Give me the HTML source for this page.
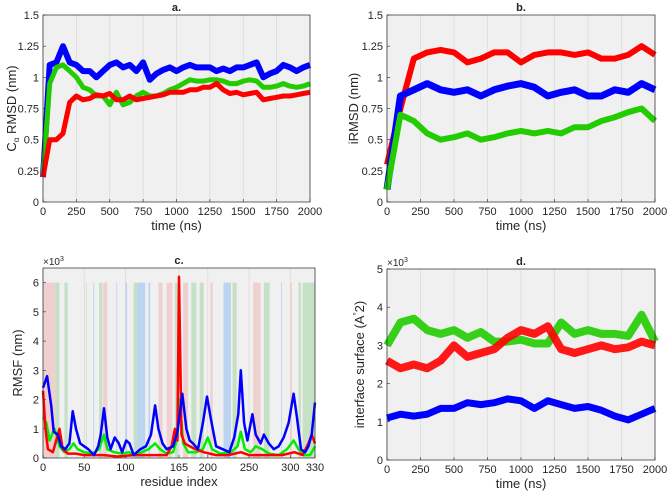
<!DOCTYPE html>
<html><head><meta charset="utf-8"><style>
body{margin:0;background:#fff;}
svg{display:block;font-family:"Liberation Sans",sans-serif;}
text{fill:#262626;}
</style></head><body>
<svg id="s" width="669" height="495" viewBox="0 0 669 495"></svg>
<script>
// ---- Panel a data (time ns, Ca RMSD nm)
const timeA=[0,50,100,150,200,250,300,350,400,450,500,550,600,650,700,750,800,850,900,950,1000,1050,1100,1150,1200,1250,1300,1350,1400,1450,1500,1550,1600,1650,1700,1750,1800,1850,1900,1950,2000];
const aBlue=[0.2,1.1,1.12,1.25,1.12,1.1,1.05,1.05,1.0,1.05,1.1,1.12,1.08,1.1,1.05,1.12,0.98,1.03,1.06,1.08,1.05,1.08,1.1,1.08,1.08,1.08,1.05,1.07,1.05,1.08,1.08,1.1,1.12,1.0,1.03,1.05,1.1,1.08,1.05,1.08,1.1];
const aGreen=[0.2,0.95,1.08,1.1,1.05,1.0,0.92,0.9,0.85,0.85,0.78,0.88,0.78,0.8,0.85,0.88,0.85,0.85,0.87,0.9,0.92,0.95,0.98,0.97,0.97,0.98,0.98,0.97,0.95,0.95,0.97,0.98,0.97,0.92,0.92,0.93,0.95,0.93,0.92,0.93,0.95];
const aRed=[0.2,0.5,0.5,0.55,0.8,0.85,0.82,0.83,0.86,0.85,0.87,0.82,0.82,0.85,0.82,0.83,0.84,0.85,0.86,0.88,0.88,0.88,0.9,0.9,0.92,0.92,0.95,0.9,0.87,0.88,0.86,0.87,0.88,0.82,0.83,0.84,0.85,0.85,0.86,0.87,0.88];
// ---- Panel b data (iRMSD nm)
const timeB=[0,100,200,300,400,500,600,700,800,900,1000,1100,1200,1300,1400,1500,1600,1700,1800,1900,2000];
const bRed=[0.3,0.75,1.15,1.2,1.22,1.2,1.12,1.15,1.2,1.2,1.12,1.18,1.2,1.2,1.18,1.2,1.15,1.15,1.18,1.25,1.18];
const bBlue=[0.1,0.85,0.9,0.95,0.9,0.88,0.9,0.85,0.9,0.93,0.95,0.92,0.85,0.88,0.9,0.85,0.85,0.9,0.88,0.95,0.9];
const bGreen=[0.1,0.7,0.65,0.55,0.5,0.52,0.55,0.5,0.52,0.55,0.57,0.55,0.57,0.55,0.6,0.6,0.65,0.68,0.72,0.75,0.65];
// ---- Panel c data (residue, RMSF x1e3)
const resBlue=[0,5,10,13,18,22,27,32,36,40,45,50,55,62,67,70,74,78,82,87,92,96,101,105,110,118,125,131,136,140,145,150,158,163,166,169,174,178,182,188,194,199,204,210,218,226,232,237,240,244,248,254,258,264,268,274,280,286,292,298,304,308,313,318,322,326,330];
const cBlue=[2.4,2.8,1.8,0.9,0.8,0.4,0.3,0.5,1.6,1.0,0.5,0.4,0.3,0.1,0.4,0.8,1.7,0.7,0.3,0.7,0.5,0.2,0.6,0.5,0.1,0.3,0.4,0.8,1.8,1.0,0.5,0.3,0.4,0.9,1.5,2.2,1.0,0.6,0.5,0.3,1.2,2.1,1.3,0.4,0.3,0.2,0.7,1.5,3.0,1.2,0.6,1.5,0.8,0.5,0.8,0.5,0.3,0.4,0.7,1.2,2.2,1.4,0.3,0.2,0.4,0.8,1.9];
const resGreen=[0,4,8,14,20,26,32,37,42,50,60,68,74,78,86,96,104,112,120,128,136,142,150,158,163,166,170,176,186,194,200,205,215,228,236,240,245,252,258,266,274,286,296,304,310,316,324,330];
const cGreen=[1.4,1.2,0.6,1.0,0.4,0.2,0.3,0.5,0.3,0.2,0.15,0.3,0.8,0.3,0.2,0.15,0.2,0.1,0.2,0.3,0.5,0.3,0.15,0.2,0.7,2.0,0.5,0.2,0.2,0.3,0.7,0.3,0.15,0.2,0.4,0.9,0.3,0.2,0.4,0.3,0.15,0.1,0.3,0.6,0.3,0.1,0.1,0.4];
const resRed=[0,3,6,12,16,20,24,30,40,50,60,74,90,110,130,150,156,160,163,165,168,172,178,185,195,210,225,240,250,270,290,305,315,322,326,330];
const cRed=[2.3,1.0,0.3,0.2,0.6,1.0,0.3,0.15,0.15,0.1,0.1,0.1,0.05,0.1,0.1,0.1,0.4,1.0,0.6,6.2,0.8,0.5,0.4,0.3,0.2,0.1,0.1,0.2,0.1,0.1,0.1,0.2,0.1,0.5,0.8,0.5];
const bandStart=[0,73,140,150,170,203,255,300,15,26,52,68,110,160,180,190,230,268,310,315,61,89,100,114,128,219,289];
const bandEnd=[15,78,145,157,176,206,264,302,20,30,53,72,116,164,186,195,235,275,313,330,62,90,102,124,130,228,290];
const bandType=["p","p","p","p","p","p","p","p","g","g","g","g","g","g","g","g","g","g","g","g","b","b","b","b","b","b","b"];
// ---- Panel d data (interface surface x1e3)
const timeD=[0,100,200,300,400,500,600,700,800,900,1000,1100,1200,1300,1400,1500,1600,1700,1800,1900,2000];
const dGreen=[3.0,3.6,3.7,3.4,3.3,3.4,3.2,3.35,3.1,3.1,3.15,3.05,3.05,3.6,3.3,3.4,3.3,3.3,3.25,3.8,3.1];
const dRed=[2.6,2.4,2.5,2.4,2.6,3.0,2.7,2.8,2.9,3.2,3.4,3.3,3.5,2.9,2.8,2.9,3.0,2.9,2.95,3.1,3.0];
const dBlue=[1.1,1.2,1.15,1.2,1.35,1.35,1.5,1.45,1.5,1.6,1.55,1.35,1.55,1.45,1.35,1.4,1.3,1.15,1.05,1.2,1.35];
const tickT=[0,250,500,750,1000,1250,1500,1750,2000];
const tickRmsd=[0,0.25,0.5,0.75,1,1.25,1.5];
const tickRes=[0,50,100,165,200,250,300,330];
const tickC=[0,1,2,3,4,5,6];
const tickD=[0,1,2,3,4,5];

const NS="http://www.w3.org/2000/svg";
const svg=document.getElementById('s');
function mk(tag,at,parent){const e=document.createElementNS(NS,tag);for(const k in at)e.setAttribute(k,at[k]);(parent||svg).appendChild(e);return e;}
function panel(o){
  const g=mk('g',{});
  
  
  const X=v=>o.x0+(v-o.xmin)/(o.xmax-o.xmin)*(o.x1-o.x0);
  const Y=v=>o.y0-(v-o.ymin)/(o.ymax-o.ymin)*(o.y0-o.y1);
  const bg=mk('rect',{x:o.x0,y:o.y1,width:o.x1-o.x0,height:o.y0-o.y1,fill:'#f0f0f0'},g);
  
  
  if(o.bands){o.bands(g,X,Y);}
  o.xt.forEach(t=>{mk('line',{x1:X(t),x2:X(t),y1:o.y1,y2:o.y0,stroke:'#d8d8d8','stroke-width':0.7},g);
    const tx=mk('text',{x:X(t),y:o.y0+13,'font-size':11,'text-anchor':'middle'},g);tx.textContent=t;
    
    
    mk('line',{x1:X(t),x2:X(t),y1:o.y0,y2:o.y0-3,stroke:'#262626','stroke-width':0.6},g);});
  o.yt.forEach(t=>{const tx=mk('text',{x:o.x0-4,y:Y(t)+4,'font-size':11,'text-anchor':'end'},g);tx.textContent=t;
    
    
    mk('line',{x1:o.x0,x2:o.x0+3,y1:Y(t),y2:Y(t),stroke:'#262626','stroke-width':0.6},g);});
  o.series.forEach(s=>{
    const pts=s.x.map((v,i)=>X(v).toFixed(1)+','+Y(s.y[i]).toFixed(1)).join(' ');
    const p=mk('polyline',{points:pts,fill:'none',stroke:s.c,'stroke-width':s.w,'stroke-linejoin':'round',opacity:s.op||1},g);
    
    
  });
  mk('rect',{x:o.x0,y:o.y1,width:o.x1-o.x0,height:o.y0-o.y1,fill:'none',stroke:'#262626','stroke-width':0.7},g);
  const ti=mk('text',{x:(o.x0+o.x1)/2,y:o.y1-4,'font-size':11,'font-weight':'bold','text-anchor':'middle'},g);ti.textContent=o.title;
  
  
  const xl=mk('text',{x:(o.x0+o.x1)/2,y:o.y0+28,'font-size':13,'text-anchor':'middle'},g);xl.textContent=o.xlab;
  
  
  const yl=mk('text',{x:0,y:0,'font-size':13,'text-anchor':'middle',transform:`translate(${o.ylx},${(o.y0+o.y1)/2}) rotate(-90)`},g);yl.innerHTML=o.ylab;
  
  
  if(o.exp){const e=mk('text',{x:o.x0,y:o.y1-3,'font-size':10},g);e.innerHTML='×10<tspan font-size="7" dy="-4">3</tspan>';
    
    }
}
panel({name:'panel-a',x0:43,x1:310,y0:202,y1:15,xmin:0,xmax:2000,ymin:0,ymax:1.5,xt:tickT,yt:tickRmsd,title:'a.',xlab:'time (ns)',ylx:16,
  ylab:'C<tspan font-size="8" dy="3">α</tspan><tspan dy="-3"> RMSD (nm)</tspan>',
  series:[{x:timeA,y:aBlue,c:'#0000ff',w:6,n:'series-blue'},{x:timeA,y:aGreen,c:'#22cc00',w:5,n:'series-green'},{x:timeA,y:aRed,c:'#ff0000',w:5,n:'series-red'}]});
panel({name:'panel-b',x0:387,x1:655,y0:202,y1:15,xmin:0,xmax:2000,ymin:0,ymax:1.5,xt:tickT,yt:tickRmsd,title:'b.',xlab:'time (ns)',ylx:358,ylab:'iRMSD (nm)',
  series:[{x:timeB,y:bRed,c:'#ff0000',w:6,n:'series-red'},{x:timeB,y:bBlue,c:'#0000ff',w:7,n:'series-blue'},{x:timeB,y:bGreen,c:'#22cc00',w:6,n:'series-green'}]});
const bandCol={p:'#f0cfcf',g:'#c6e0c6',b:'#bcd4ef'};
panel({name:'panel-c',x0:43,x1:315,y0:458,y1:268,xmin:0,xmax:330,ymin:0,ymax:6.5,xt:tickRes,yt:tickC,title:'c.',xlab:'residue index',ylx:22,ylab:'RMSF (nm)',exp:true,
  bands:(g,X,Y)=>{bandStart.forEach((s,i)=>{const r=mk('rect',{x:X(s),y:Y(6),width:X(bandEnd[i])-X(s),height:Y(0)-Y(6),fill:bandCol[bandType[i]]},g);
    
    });},
  series:[{x:resGreen,y:cGreen,c:'#00ee00',w:2.5,n:'series-green'},{x:resRed,y:cRed,c:'#ff0000',w:2.5,n:'series-red'},{x:resBlue,y:cBlue,c:'#0000ff',w:2.5,n:'series-blue'}]});
panel({name:'panel-d',x0:387,x1:655,y0:460,y1:269,xmin:0,xmax:2000,ymin:0,ymax:5,xt:tickT,yt:tickD,title:'d.',xlab:'time (ns)',ylx:364,exp:true,
  ylab:'interface surface (A<tspan font-size="8" dy="-5">°</tspan><tspan dy="5">2)</tspan>',
  series:[{x:timeD,y:dGreen,c:'#22cc00',w:8,n:'series-green',op:0.9},{x:timeD,y:dRed,c:'#ff0000',w:8,n:'series-red',op:0.9},{x:timeD,y:dBlue,c:'#0000ff',w:7,n:'series-blue'}]});
</script>
</body></html>
